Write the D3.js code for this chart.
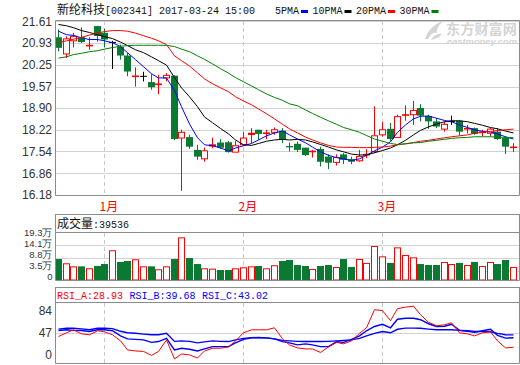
<!DOCTYPE html>
<html><head><meta charset="utf-8">
<script src="https://cdnjs.cloudflare.com/ajax/libs/d3/7.8.5/d3.min.js"></script>
<style>body{margin:0;background:#fff}svg{display:block}</style>
</head><body><svg id="c" width="520" height="365"></svg>
<script>
const dates = ["2016-12-23","2016-12-26","2016-12-27","2016-12-28","2016-12-29","2016-12-30",
"2017-01-03","2017-01-04","2017-01-05","2017-01-06","2017-01-09","2017-01-10","2017-01-11","2017-01-12","2017-01-13",
"2017-01-16","2017-01-17","2017-01-18","2017-01-19","2017-01-20","2017-01-23","2017-01-24","2017-01-25","2017-01-26",
"2017-02-03","2017-02-06","2017-02-07","2017-02-08","2017-02-09","2017-02-10","2017-02-13","2017-02-14","2017-02-15",
"2017-02-16","2017-02-17","2017-02-20","2017-02-21","2017-02-22","2017-02-23","2017-02-24","2017-02-27","2017-02-28",
"2017-03-01","2017-03-02","2017-03-03","2017-03-06","2017-03-07","2017-03-08","2017-03-09","2017-03-10","2017-03-13",
"2017-03-14","2017-03-15","2017-03-16","2017-03-17","2017-03-20","2017-03-21","2017-03-22","2017-03-23","2017-03-24"];
const open  = [21.11,20.59,21.00,21.11,20.82,21.46,21.25,20.95,20.81,20.54,19.88,19.89,19.71,19.63,19.84,19.91,17.96,17.99,17.59,17.31,
17.68,17.82,17.83,17.52,17.75,18.04,18.22,18.10,18.14,18.19,17.71,17.78,17.66,17.54,17.62,17.38,17.20,17.45,17.30,17.25,
17.43,17.54,18.06,18.25,17.98,18.67,18.69,18.90,18.65,18.48,18.24,18.48,18.50,18.24,18.27,18.13,18.11,18.16,17.96,17.66];
const close = [20.78,21.06,21.14,20.96,20.86,21.15,21.04,20.95,20.54,20.04,19.90,19.89,19.55,19.65,19.92,17.93,18.14,17.69,17.38,17.56,
17.75,17.66,17.52,17.72,17.96,18.11,18.09,18.12,18.22,17.93,17.69,17.59,17.43,17.55,17.22,17.19,17.35,17.28,17.22,17.38,
17.45,18.03,18.22,17.93,18.63,18.69,18.82,18.66,18.48,18.32,18.39,18.48,18.16,18.26,18.09,18.15,18.24,17.93,17.69,17.68];
const high  = [21.35,21.14,21.25,21.42,21.11,21.47,21.38,21.00,20.88,20.62,20.17,20.03,19.96,19.94,19.99,19.92,18.22,18.06,17.75,17.66,
17.97,17.93,17.87,17.87,18.16,18.27,18.22,18.22,18.29,18.27,17.82,17.85,17.66,17.59,17.69,17.45,17.45,17.49,17.38,17.59,
17.61,18.95,18.46,18.43,18.69,18.98,19.12,19.02,18.69,18.58,18.48,18.66,18.53,18.37,18.29,18.22,18.27,18.27,18.01,17.80];
const low   = [20.67,20.46,20.79,20.93,20.72,20.97,20.79,20.12,20.41,19.89,19.57,19.73,19.47,19.33,19.73,17.90,16.31,17.62,17.28,17.22,
17.64,17.62,17.51,17.52,17.72,17.80,17.90,17.93,18.06,17.80,17.54,17.52,17.40,17.35,17.07,16.99,17.10,17.15,17.14,17.22,
17.33,17.49,18.01,17.87,17.96,18.50,18.37,18.48,18.25,18.27,18.16,18.37,18.04,18.11,18.06,18.01,18.01,17.90,17.46,17.52];
const ma5  = [21.30,21.19,21.17,21.09,21.04,21.04,21.00,20.94,20.82,20.63,20.41,20.19,19.97,19.84,19.84,19.44,18.94,18.40,17.97,17.75,
17.72,17.65,17.56,17.65,17.72,17.79,17.90,18.03,18.12,18.18,18.06,17.93,17.81,17.68,17.53,17.42,17.35,17.31,17.26,17.31,
17.42,17.56,17.68,17.84,18.14,18.37,18.56,18.64,18.65,18.58,18.51,18.47,18.37,18.29,18.22,18.17,18.15,18.09,18.00,17.93];
const ma10 = [21.51,21.47,21.41,21.32,21.26,21.19,21.13,21.07,20.96,20.85,20.72,20.63,20.50,20.38,20.24,19.85,19.53,19.25,18.94,18.62,
18.44,18.26,18.09,17.90,17.75,17.73,17.79,17.86,17.90,17.92,17.90,17.92,17.90,17.84,17.76,17.68,17.59,17.53,17.46,17.43,
17.43,17.50,17.57,17.65,17.75,17.89,18.06,18.20,18.31,18.40,18.47,18.50,18.50,18.47,18.42,18.36,18.29,18.25,18.18,18.12];
const ma20 = [20.94,21.00,21.05,21.11,21.18,21.24,21.29,21.32,21.32,21.30,21.24,21.16,21.08,21.00,20.88,20.53,20.38,20.21,20.00,19.81,
19.66,19.53,19.41,19.25,19.12,19.00,18.87,18.72,18.56,18.39,18.25,18.12,17.99,17.90,17.81,17.73,17.68,17.67,17.67,17.66,
17.66,17.67,17.68,17.71,17.75,17.78,17.82,17.86,17.89,17.93,17.97,18.00,18.03,18.06,18.11,18.14,18.17,18.19,18.22,18.24];
const ma30 = [20.46,20.50,20.57,20.61,20.66,20.69,20.74,20.79,20.83,20.85,20.86,20.86,20.86,20.86,20.86,20.82,20.74,20.66,20.53,20.42,
20.28,20.13,19.99,19.85,19.72,19.59,19.47,19.34,19.23,19.14,19.03,18.97,18.84,18.73,18.61,18.50,18.39,18.29,18.22,18.14,
18.04,17.93,17.86,17.79,17.76,17.78,17.81,17.82,17.86,17.89,17.92,17.95,17.97,17.98,18.00,18.00,18.00,17.99,17.98,17.97];
const volume = [8.4,6.65,5.4,5.4,4.6,5.55,6.35,12.0,7.2,7.6,8.3,5.4,5.4,4.2,5.4,8.4,17.3,8.8,6.35,4.6,
4.45,3.9,3.9,4.6,5.0,5.4,5.55,4.6,5.85,7.6,8.0,5.95,5.55,4.3,5.55,5.95,5.15,8.4,5.15,8.4,
6.8,13.75,9.5,6.8,13.2,10.05,9.1,6.35,5.95,5.95,7.2,6.35,6.8,5.95,7.2,5.55,7.2,6.35,8.0,5.15];
const rsiA = [41.1,45.4,48.8,44.2,43.1,47.7,46.5,43.1,36.2,25.9,24.7,24.2,19.6,24.2,37.3,15.6,21.3,20.2,16.7,24.7,
27.8,27.8,29.3,36.2,45.4,48.8,48.8,48.8,51.1,38.5,31.6,28.2,27.0,27.0,23.0,29.3,34.5,32.8,36.2,44.8,
51.1,71.7,70.6,59.1,72.9,74.6,75.7,66.0,57.4,53.4,54.5,56.8,45.4,44.2,41.9,45.4,46.5,36.2,28.2,28.93];
const rsiB = [48.0,48.8,48.2,48.0,46.8,48.8,48.8,47.7,41.9,38.5,37.9,37.3,34.5,35.4,39.1,25.9,27.8,26.7,24.7,27.0,
29.7,29.7,29.7,33.9,37.9,39.6,39.6,39.6,38.5,35.4,33.9,31.6,32.8,31.6,29.7,29.7,35.1,34.5,37.9,41.9,
47.7,52.6,55.1,51.1,60.8,62.0,62.0,60.3,55.7,52.6,52.8,55.1,48.2,47.1,45.9,47.7,49.4,42.5,39.3,39.68];
const rsiC = [49.6,50.5,50.7,49.9,48.8,50.5,50.7,50.2,47.1,45.4,44.8,43.9,43.1,43.1,44.8,35.6,36.2,35.6,33.9,35.1,
36.2,35.6,35.4,37.3,39.1,39.9,40.0,39.6,38.5,36.8,36.2,35.6,35.4,35.4,35.4,35.6,36.2,36.8,37.3,39.1,
41.9,44.8,46.8,45.4,49.4,50.7,50.7,50.5,49.6,48.8,48.8,48.8,48.2,47.7,46.8,46.8,46.5,44.8,43.1,43.02];
const priceTicks = [16.18,16.86,17.54,18.22,18.90,19.57,20.25,20.93,21.61];
const volTicks = [0,3.5,8.8,14.1,19.3];
const volTickLabels = ["0","3.5万","8.8万","14.1万","19.3万"];
const rsiTickLabels = ["84","47","0"];
const maNames = ["5PMA","10PMA","20PMA","30PMA"];
const maColors = ["#0000ff","#000000","#ff0000","#008000"];
const title = {name:"新纶科技", rest:"[002341] 2017-03-24 15:00"};
const volHeader = {name:"成交量", value:":39536"};
const rsiHeader = [["RSI_A:28.93","#ff0000"],["RSI_B:39.68","#0000ff"],["RSI_C:43.02","#0000ff"]];

const RED="#ff0000", GREEN="#0a7a32", FRAME="#8c8c8c", GRID="#d2d2d2";
const MONO="'Liberation Mono','DejaVu Sans Mono',monospace", CJK="'Noto Sans CJK SC',sans-serif", SANS="'Liberation Sans',Arial,sans-serif";
const svg = d3.select("#c");
svg.append("rect").attr("width",520).attr("height",365).attr("fill","#fff");

const L=55, R=519;
const n = dates.length;
const x = d3.scaleBand().domain(d3.range(n)).range([55, 55+7.71*(n-0.22)]).paddingInner(0.22).paddingOuter(0);
const bw = 6;
const xs = i => Math.round(x(i));
const xc = i => xs(i)+3.5;
const yP = d3.scaleLinear().domain([16.18,21.61]).range([195,21.3]);
const yV = d3.scaleLinear().domain([0,19.3]).range([279.5,232.5]);
const yR = d3.scaleLinear().domain([11,80]).range([363,302.4]);

const monthStarts = d3.range(n).filter(i => i>0 && dates[i].slice(5,7)!==dates[i-1].slice(5,7));

// ---------- title & legend ----------
const t = svg.append("text").attr("x",57).attr("y",14).attr("fill","#111");
t.append("tspan").attr("font-family",CJK).attr("font-size",12).text(title.name);
t.append("tspan").attr("font-family",MONO).attr("font-size",10).text(title.rest);
let lx = 275;
maNames.forEach((nm,k)=>{
  svg.append("text").attr("x",lx).attr("y",14).attr("font-family",MONO).attr("font-size",10).attr("fill","#111").text(nm);
  const w = nm.length*6;
  svg.append("rect").attr("x",lx+w+2).attr("y",10).attr("width",7).attr("height",3).attr("fill",maColors[k]);
  lx += w+2+7+4.5;
});

// watermark
const wm = svg.append("g").attr("fill","#d4d4d4");
wm.append("path").attr("d","M425,39 C428,30 434,24 443,21 C438,26 436,30 437,33 C433,32 430,35 428,39 Z M431,40 C434,35 438,33 442,34 C440,37 436,39 431,40 Z");
wm.append("text").attr("x",446).attr("y",34).attr("font-family",CJK).attr("font-weight","bold").attr("font-size",13.5)
  .attr("textLength",71).attr("lengthAdjust","spacingAndGlyphs").text("东方财富网");
wm.append("text").attr("x",447).attr("y",44).attr("font-family",SANS).attr("font-weight","bold").attr("font-style","italic").attr("font-size",7.5).attr("textLength",70).attr("lengthAdjust","spacingAndGlyphs").text("eastmoney.com");

// ---------- main panel ----------
const main = svg.append("g");
priceTicks.forEach(v=>{
  main.append("line").attr("x1",L).attr("x2",R).attr("y1",Math.round(yP(v))+0.5).attr("y2",Math.round(yP(v))+0.5).attr("stroke",GRID);
  main.append("text").attr("x",52).attr("y",yP(v)).attr("dy","0.36em").attr("text-anchor","end")
    .attr("font-family",SANS).attr("font-size",12).attr("fill","#333").text(v.toFixed(2));
});
monthStarts.forEach(i=>{
  main.append("line").attr("x1",xc(i)).attr("x2",xc(i)).attr("y1",21).attr("y2",195).attr("stroke","#c8c8c8").attr("stroke-dasharray","4,3");
  svg.append("text").attr("x",xc(i)-5).attr("y",211).attr("fill",RED).attr("font-family",CJK).attr("font-size",12)
    .text(String(+dates[i].slice(5,7))+"月");
});
d3.range(n).forEach(i=>{
  const o=open[i], c=close[i];
  const col = c>o?RED:(c<o?GREEN:"#000");
  const cx = xc(i);
  main.append("line").attr("x1",cx).attr("x2",cx).attr("y1",yP(high[i])).attr("y2",yP(low[i])).attr("stroke",col);
  const top = yP(Math.max(o,c)), bot = yP(Math.min(o,c));
  if (c>o) {
    const h = Math.max(bot-top,1);
    if (h<2.5) main.append("rect").attr("x",xs(i)).attr("y",top-0.5).attr("width",bw+1).attr("height",Math.max(h,1.6)).attr("fill",RED);
    else main.append("rect").attr("x",xs(i)+0.5).attr("y",top).attr("width",bw).attr("height",h).attr("fill","#fff").attr("stroke",RED);
  } else if (c<o) {
    main.append("rect").attr("x",xs(i)).attr("y",top).attr("width",bw+1).attr("height",Math.max(bot-top,1.3)).attr("fill",GREEN);
  } else {
    main.append("line").attr("x1",xs(i)).attr("x2",xs(i)+bw+1).attr("y1",top).attr("y2",top).attr("stroke","#000");
  }
});
[ma5,ma10,ma20,ma30].forEach((arr,k)=>{
  main.append("path").datum(arr).attr("fill","none").attr("stroke",maColors[k]).attr("stroke-width",1)
    .attr("d", d3.line().x((d,i)=>xc(i)).y(d=>yP(d)));
});
main.append("path").attr("d",`M${L+0.5},195.5V20.5H${R+0.5}V195.5Z`).attr("fill","none").attr("stroke",FRAME);

// ---------- volume panel ----------
const vol = svg.append("g");
vol.append("rect").attr("x",L+0.5).attr("y",214.5).attr("width",R-L).attr("height",18).attr("fill","#fff").attr("stroke",FRAME);
const vt = vol.append("text").attr("x",57).attr("y",228).attr("fill","#111");
vt.append("tspan").attr("font-family",CJK).attr("font-size",12).text(volHeader.name);
vt.append("tspan").attr("font-family",MONO).attr("font-size",10).text(volHeader.value);
volTicks.forEach(v=>{
  if (v>0 && v<19.3) vol.append("line").attr("x1",L).attr("x2",R).attr("y1",Math.round(yV(v))+0.5).attr("y2",Math.round(yV(v))+0.5).attr("stroke",GRID);
});
// labels packed from the bottom so they do not collide (as in the original)
const volLabelY = [277,265.5,254.5,243.5,232.5];
volTicks.forEach((v,k)=>{
  vol.append("text").attr("x",52.5).attr("y",volLabelY[k]).attr("dy","0.36em").attr("text-anchor","end")
    .attr("font-family",SANS).attr("font-size",9.5).attr("fill","#333").text(volTickLabels[k]);
});
monthStarts.forEach(i=>{
  vol.append("line").attr("x1",xc(i)).attr("x2",xc(i)).attr("y1",233).attr("y2",280).attr("stroke","#c8c8c8").attr("stroke-dasharray","4,3");
});
d3.range(n).forEach(i=>{
  const up = close[i]>=open[i];
  const top = yV(volume[i]);
  if (up) vol.append("rect").attr("x",xs(i)+0.5).attr("y",top+0.5).attr("width",bw).attr("height",279.5-top).attr("fill","#fff").attr("stroke",RED);
  else vol.append("rect").attr("x",xs(i)).attr("y",top).attr("width",bw+1).attr("height",280-top).attr("fill",GREEN);
});
vol.append("path").attr("d",`M${L+0.5},232.5V280.5H${R+0.5}V232.5`).attr("fill","none").attr("stroke",FRAME);

// ---------- RSI panel ----------
const rsi = svg.append("g");
rsi.append("rect").attr("x",L+0.5).attr("y",287.5).attr("width",R-L).attr("height",15).attr("fill","#fff").attr("stroke",FRAME);
let rx = 57;
rsiHeader.forEach(([s,col])=>{
  rsi.append("text").attr("x",rx).attr("y",298.5).attr("font-family",MONO).attr("font-size",10).attr("fill",col).text(s);
  rx += (s.length+1)*6+0.5;
});
const yLab = d3.scalePoint().domain(rsiTickLabels).range([311,355]);
rsi.append("line").attr("x1",L).attr("x2",R).attr("y1",333.5).attr("y2",333.5).attr("stroke",GRID);
rsiTickLabels.forEach(s=>{
  rsi.append("text").attr("x",52).attr("y",yLab(s)).attr("dy","0.36em").attr("text-anchor","end")
    .attr("font-family",SANS).attr("font-size",12).attr("fill","#333").text(s);
});
monthStarts.forEach(i=>{
  rsi.append("line").attr("x1",xc(i)).attr("x2",xc(i)).attr("y1",303).attr("y2",363).attr("stroke","#c8c8c8").attr("stroke-dasharray","4,3");
});
[[rsiC,"#0000ff",1.4],[rsiB,"#0000ff",1.4],[rsiA,"#ff0000",1]].forEach(([arr,col,w])=>{
  rsi.append("path").datum(arr).attr("fill","none").attr("stroke",col).attr("stroke-width",w)
    .attr("d", d3.line().x((d,i)=>xc(i)).y(d=>yR(d)));
});
rsi.append("path").attr("d",`M${L+0.5},302.5V363.5H${R+0.5}V302.5`).attr("fill","none").attr("stroke",FRAME);
</script></body></html>
